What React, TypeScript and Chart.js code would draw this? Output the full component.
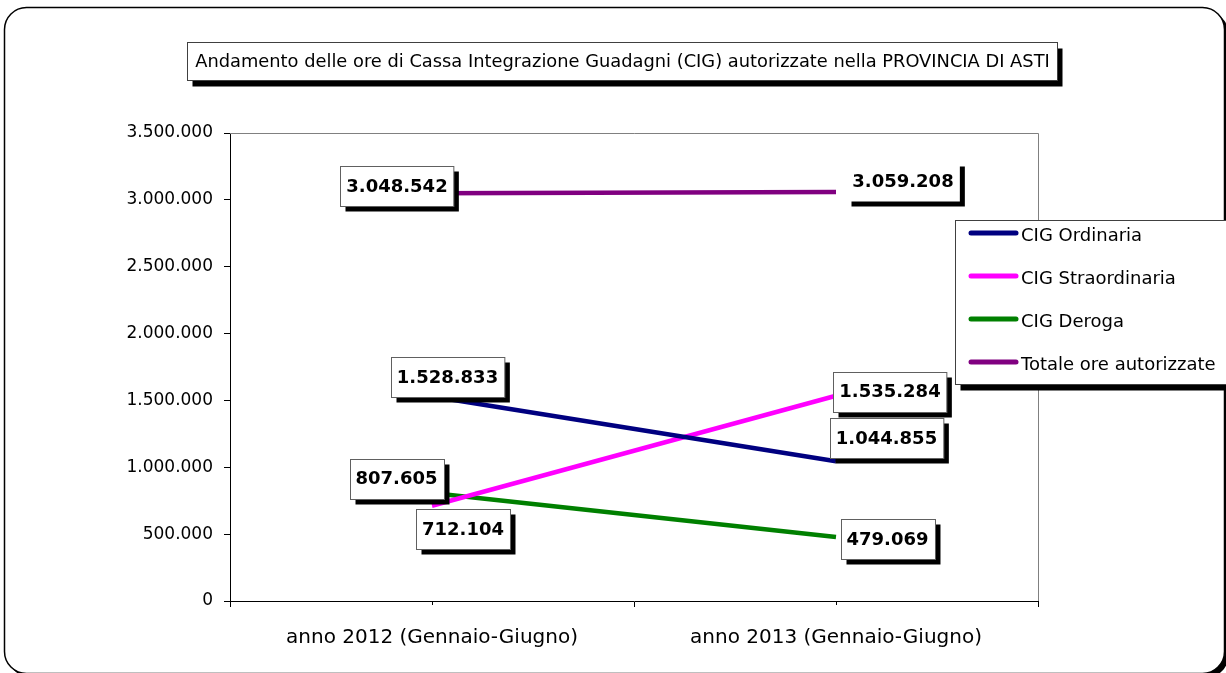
import React, { useEffect, useRef } from 'react';
import { Chart, registerables } from 'chart.js';

Chart.register(...registerables);

// ---- data ----
const categories = ['anno 2012 (Gennaio-Giugno)', 'anno 2013 (Gennaio-Giugno)'];
const seriesNames = ['CIG Ordinaria', 'CIG Straordinaria', 'CIG Deroga', 'Totale ore autorizzate'];
const cigOrdinaria = [1528833, 1044855];
const cigStraordinaria = [712104, 1535284];
const cigDeroga = [807605, 479069];
const totaleOre = [3048542, 3059208];
const yMin = 0;
const yMax = 3500000;
const yStep = 500000;
const titleText =
  'Andamento delle ore di Cassa Integrazione Guadagni (CIG) autorizzate nella PROVINCIA DI ASTI';

// ---- styles ----
const seriesColors = ['#000080', '#FF00FF', '#008000', '#800080'];
// placement of each value box relative to its point (px)
const labelOffsets = [
  [[15.5, -19.6], [50.5, -23]],
  [[31, 23.7], [54, -4]],
  [[-35.5, -14.5], [51.5, 2.5]],
  [[-35, -7], [67, -11]],
];
const labelBorderless = [
  [false, false],
  [false, false],
  [false, false],
  [false, true],
];

const FONT = '"DejaVu Sans", "Liberation Sans", sans-serif';

const fmt = (v: number) =>
  Math.round(v)
    .toString()
    .replace(/\B(?=(\d{3})+(?!\d))/g, '.');

const decorPlugin = {
  id: 'decor',
  beforeDraw(chart: any) {
    const ctx = chart.ctx;
    ctx.save();
    ctx.fillStyle = '#fff';
    ctx.fillRect(0, 0, chart.width, chart.height);
    // outer rounded frame with shadow
    ctx.fillStyle = '#000';
    ctx.beginPath();
    ctx.roundRect(8.5, 11.5, 1220, 666, 22);
    ctx.fill();
    ctx.fillStyle = '#fff';
    ctx.strokeStyle = '#000';
    ctx.lineWidth = 1.5;
    ctx.beginPath();
    ctx.roundRect(4.5, 7.5, 1220, 666, 22);
    ctx.fill();
    ctx.stroke();
    ctx.restore();
  },
  beforeDatasetsDraw(chart: any) {
    const { ctx, chartArea } = chart;
    ctx.save();
    ctx.strokeStyle = '#808080';
    ctx.lineWidth = 1;
    ctx.beginPath();
    ctx.moveTo(chartArea.left, chartArea.top + 0.5);
    ctx.lineTo(chartArea.right + 0.5, chartArea.top + 0.5);
    ctx.lineTo(chartArea.right + 0.5, chartArea.bottom);
    ctx.stroke();
    // minor ticks at category centres
    const xs = chart.scales.x;
    ctx.strokeStyle = '#000';
    categories.forEach((_c, i) => {
      const px = Math.round(xs.getPixelForValue(i)) + 0.5;
      ctx.beginPath();
      ctx.moveTo(px, chartArea.bottom);
      ctx.lineTo(px, chartArea.bottom + 4);
      ctx.stroke();
    });
    ctx.restore();
  },
  afterDatasetsDraw(chart: any) {
    const ctx = chart.ctx;
    ctx.save();
    ctx.font = 'bold 18px ' + FONT;
    ctx.textAlign = 'center';
    ctx.textBaseline = 'middle';
    chart.data.datasets.forEach((ds: any, di: number) => {
      const meta = chart.getDatasetMeta(di);
      meta.data.forEach((pt: any, pi: number) => {
        const text = fmt(ds.data[pi]);
        const [ox, oy] = labelOffsets[di][pi];
        const cx = pt.x + ox;
        const cy = pt.y + oy;
        const w = ctx.measureText(text).width + 12;
        const h = 40;
        const x = Math.round(cx - w / 2) + 0.5;
        const y = Math.round(cy - h / 2) + 0.5;
        ctx.fillStyle = '#000';
        ctx.fillRect(x + 5, y + 5, w, h);
        ctx.fillStyle = '#fff';
        ctx.fillRect(x, y, w, h);
        if (!labelBorderless[di][pi]) {
          ctx.strokeStyle = '#606060';
          ctx.lineWidth = 1;
          ctx.strokeRect(x, y, w, h);
        }
        ctx.fillStyle = '#000';
        ctx.fillText(text, cx, cy + 1);
      });
    });
    ctx.restore();
  },
  afterDraw(chart: any) {
    const ctx = chart.ctx;
    ctx.save();
    // title box
    const tb = { x: 187.5, y: 42.5, w: 870, h: 38 };
    ctx.fillStyle = '#000';
    ctx.fillRect(tb.x + 5, tb.y + 6, tb.w, tb.h);
    ctx.fillStyle = '#fff';
    ctx.fillRect(tb.x, tb.y, tb.w, tb.h);
    ctx.strokeStyle = '#404040';
    ctx.lineWidth = 1;
    ctx.strokeRect(tb.x, tb.y, tb.w, tb.h);
    ctx.font = '16px ' + FONT;
    const tw = ctx.measureText(titleText).width;
    const size = (16 * 855) / tw;
    ctx.font = size.toFixed(2) + 'px ' + FONT;
    ctx.fillStyle = '#000';
    ctx.textAlign = 'center';
    ctx.textBaseline = 'middle';
    ctx.fillText(titleText, tb.x + tb.w / 2, tb.y + tb.h / 2 + 1);

    // legend
    const lb = { x: 955.5, y: 220.5, w: 300, h: 164 };
    ctx.fillStyle = '#000';
    ctx.fillRect(lb.x + 5, lb.y + 6, lb.w, lb.h);
    ctx.fillStyle = '#fff';
    ctx.fillRect(lb.x, lb.y, lb.w, lb.h);
    ctx.strokeStyle = '#404040';
    ctx.strokeRect(lb.x, lb.y, lb.w, lb.h);
    ctx.font = '18px ' + FONT;
    ctx.textAlign = 'left';
    ctx.textBaseline = 'middle';
    chart.data.datasets.forEach((ds: any, i: number) => {
      const yy = 233 + i * 43;
      ctx.strokeStyle = ds.borderColor;
      ctx.lineWidth = 5;
      ctx.lineCap = 'round';
      ctx.beginPath();
      ctx.moveTo(971, yy);
      ctx.lineTo(1016, yy);
      ctx.stroke();
      ctx.fillStyle = '#000';
      ctx.fillText(ds.label, 1021, yy + 3);
    });
    ctx.restore();
  },
};

export default function App() {
  const ref = useRef<HTMLCanvasElement | null>(null);
  useEffect(() => {
    document.body.style.margin = '0';
    const canvas = ref.current!;
    const seriesData = [cigOrdinaria, cigStraordinaria, cigDeroga, totaleOre];
    const chart = new Chart(canvas, {
      type: 'line',
      data: {
        labels: categories,
        datasets: seriesNames.map((name, i) => ({
          label: name,
          data: seriesData[i],
          borderColor: seriesColors[i],
          backgroundColor: seriesColors[i],
          borderWidth: 4.5,
          pointRadius: 0,
          tension: 0,
        })),
      },
      options: {
        animation: false,
        responsive: false,
        devicePixelRatio: 1,
        layout: { padding: { left: 0, top: 133, right: 188, bottom: 0 } },
        plugins: {
          legend: { display: false },
          title: { display: false },
          tooltip: { enabled: false },
        },
        scales: {
          x: {
            type: 'category',
            offset: true,
            grid: {
              offset: true,
              drawOnChartArea: false,
              drawTicks: true,
              tickLength: 6,
              color: '#000',
            },
            border: { color: '#000', width: 1 },
            ticks: {
              color: '#000',
              font: { family: FONT, size: 20 },
              padding: 19,
              maxRotation: 0,
              autoSkip: false,
            },
            afterFit: (s: any) => {
              s.height = 72;
            },
          },
          y: {
            min: yMin,
            max: yMax,
            grid: {
              drawOnChartArea: false,
              drawTicks: true,
              tickLength: 6,
              color: '#000',
            },
            border: { color: '#000', width: 1 },
            ticks: {
              stepSize: yStep,
              color: '#000',
              font: { family: FONT, size: 17 },
              padding: 11,
              callback: (v: any) => fmt(Number(v)),
            },
            afterFit: (s: any) => {
              s.width = 230;
            },
          },
        },
      },
      plugins: [decorPlugin],
    });
    return () => chart.destroy();
  }, []);
  return (
    <canvas
      ref={ref}
      width={1226}
      height={673}
      style={{ display: 'block', position: 'absolute', left: 0, top: 0, width: 1226, height: 673 }}
    />
  );
}
